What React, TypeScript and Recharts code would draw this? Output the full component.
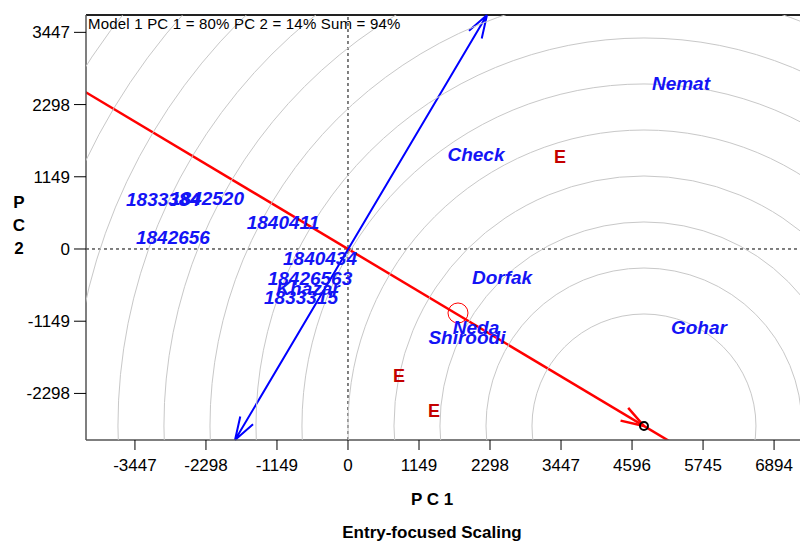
import { ScatterChart, Scatter, XAxis, YAxis, ReferenceLine, ReferenceDot } from "recharts";

// GGE biplot, entry-focused scaling: comparison with the ideal entry
const xTicks = [-3447, -2298, -1149, 0, 1149, 2298, 3447, 4596, 5745, 6894];
const yTicks = [-2298, -1149, 0, 1149, 2298, 3447];
const xDomain = [-4239, 7346];
const yDomain = [-3039, 3723];

const genotypeNames = ["Nemat", "Check", "Dorfak", "Neda", "Shiroodi", "Gohar", "1833384", "1842520", "1842656", "1840411", "1840434", "18426563", "Khazar", "1833315"];
const genotypePc1 = [5388, 2071, 2492, 2071, 1925, 5679, -2993, -2281, -2832, -1052, -453, -615, -647, -760];
const genotypePc2 = [2641, 1511, -461, -1257, -1416, -1257, 780, 796, 175, 414, -159, -477, -636, -764];

const environmentPc1 = [3430, 825, 1391];
const environmentPc2 = [1464, -2021, -2577];

const idealEntry = { x: 4789, y: -2816 };
const averageEnvironment = { x: 1780, y: -1018 };
const atcEnds = [{ x: -1828, y: -3039 }, { x: 2249, y: 3723 }];
// concentric distances from the ideal entry (PC1 units)
const circleRadii = [1812, 2556, 3301, 4045, 4789, 5534, 6278, 7022, 7767, 8511, 9255, 10000, 10744, 11488];

const genotypes = genotypeNames.map((name, i) => ({ name, x: genotypePc1[i], y: genotypePc2[i] }));
const environments = environmentPc1.map((x, i) => ({ name: "E", x, y: environmentPc2[i] }));

const W = 810;
const H = 542;
const M = { top: 15, right: 8, bottom: 72, left: 0 };
const Y_AXIS_W = 86;
const pxPerUnit = (W - M.left - M.right - Y_AXIS_W) / (xDomain[1] - xDomain[0]);

const tickFont = { fontSize: 17, fontFamily: "'Liberation Sans Narrow', 'Liberation Sans', Arial", fill: "#000" };

function head(tx: number, ty: number, fx: number, fy: number) {
    const a = Math.atan2(fy - ty, fx - tx);
    const r = (18 * Math.PI) / 180;
    return [a - r, a + r]
        .map((b) => `M${tx},${ty}L${tx + 24 * Math.cos(b)},${ty + 24 * Math.sin(b)}`)
        .join("");
}

const Circles = (p: any) => (
    <g clipPath={p.clipPath}>
        {circleRadii.map((r) => (
            <circle key={r} cx={p.cx} cy={p.cy} r={r * pxPerUnit} fill="none" stroke="#c8c8c8" strokeWidth={1} />
        ))}
    </g>
);

const RedHead = (p: any) => (
    <path d={head(p.x2, p.y2, p.x1, p.y1)} stroke="#ff0000" strokeWidth={2.5} fill="none" />
);

const BlueArrow = (p: any) => (
    <path
        d={`M${p.x1},${p.y1}L${p.x2},${p.y2}` + head(p.x2, p.y2, p.x1, p.y1) + head(p.x1, p.y1, p.x2, p.y2)}
        stroke="#0000ff"
        strokeWidth={2}
        fill="none"
    />
);

const GenotypeLabel = (p: any) => (
    <text x={p.cx} y={p.cy} textAnchor="middle" dominantBaseline="central"
        fontFamily="'Liberation Sans', Arial" fontSize={19} fontWeight="bold" fontStyle="italic" fill="#1414f5">
        {p.payload.name}
    </text>
);

const EnvLabel = (p: any) => (
    <text x={p.cx} y={p.cy} textAnchor="middle" dominantBaseline="central"
        fontFamily="'Liberation Sans', Arial" fontSize={18} fontWeight="bold" fill="#c40000">
        {p.payload.name}
    </text>
);

export default function App() {
    return (
        <div style={{ position: "fixed", left: 0, top: 0, width: 800, height: 542, overflow: "hidden", background: "#fff" }}>
            <ScatterChart width={W} height={H} margin={M}>
                <XAxis type="number" dataKey="x" domain={xDomain} ticks={xTicks} allowDataOverflow
                    height={30} tickSize={10} tickMargin={9} tick={tickFont}
                    axisLine={{ stroke: "#555", strokeWidth: 1.5 }} tickLine={{ stroke: "#000" }} />
                <YAxis type="number" dataKey="y" domain={yDomain} ticks={yTicks} allowDataOverflow
                    width={Y_AXIS_W} tickSize={12} tickMargin={4} tick={tickFont}
                    axisLine={{ stroke: "#555", strokeWidth: 1.5 }} tickLine={{ stroke: "#000" }} />

                <ReferenceDot x={idealEntry.x} y={idealEntry.y} ifOverflow="hidden" shape={Circles} />
                <ReferenceLine x={0} stroke="#000" strokeDasharray="3 3" />
                <ReferenceLine y={0} stroke="#000" strokeDasharray="3 3" />
                <ReferenceLine y={yDomain[1]} stroke="#222" strokeWidth={2} />

                <ReferenceLine
                    segment={[{ x: -2 * idealEntry.x, y: -2 * idealEntry.y }, { x: 1.5 * idealEntry.x, y: 1.5 * idealEntry.y }]}
                    ifOverflow="hidden" stroke="#ff0000" strokeWidth={2.5} />
                <ReferenceLine segment={[{ x: 0, y: 0 }, idealEntry]} ifOverflow="hidden" shape={RedHead} />
                <ReferenceLine segment={atcEnds} ifOverflow="visible" shape={BlueArrow} />

                <ReferenceDot x={averageEnvironment.x} y={averageEnvironment.y} r={10} fill="none" stroke="#ff0000" strokeWidth={1} />
                <ReferenceDot x={idealEntry.x} y={idealEntry.y} r={4} fill="none" stroke="#000" strokeWidth={2} />

                <Scatter data={genotypes} shape={GenotypeLabel} isAnimationActive={false} />
                <Scatter data={environments} shape={EnvLabel} isAnimationActive={false} />
            </ScatterChart>

            <div style={{ position: "absolute", left: 88, top: 15, font: "15px 'Liberation Sans', Arial", letterSpacing: 0.2, whiteSpace: "nowrap", color: "#000" }}>
                Model 1 PC 1 = 80% PC 2 = 14% Sum = 94%
            </div>
            <div style={{ position: "absolute", left: 8, top: 191, width: 22, textAlign: "center", font: "bold 17px 'Liberation Sans', Arial", lineHeight: "23px" }}>
                P<br />C<br />2
            </div>
            <div style={{ position: "absolute", left: 332, top: 490, width: 200, textAlign: "center", font: "bold 17px 'Liberation Sans', Arial" }}>
                P C 1
            </div>
            <div style={{ position: "absolute", left: 282, top: 523, width: 300, textAlign: "center", font: "bold 17px 'Liberation Sans', Arial" }}>
                Entry-focused Scaling
            </div>
        </div>
    );
}
